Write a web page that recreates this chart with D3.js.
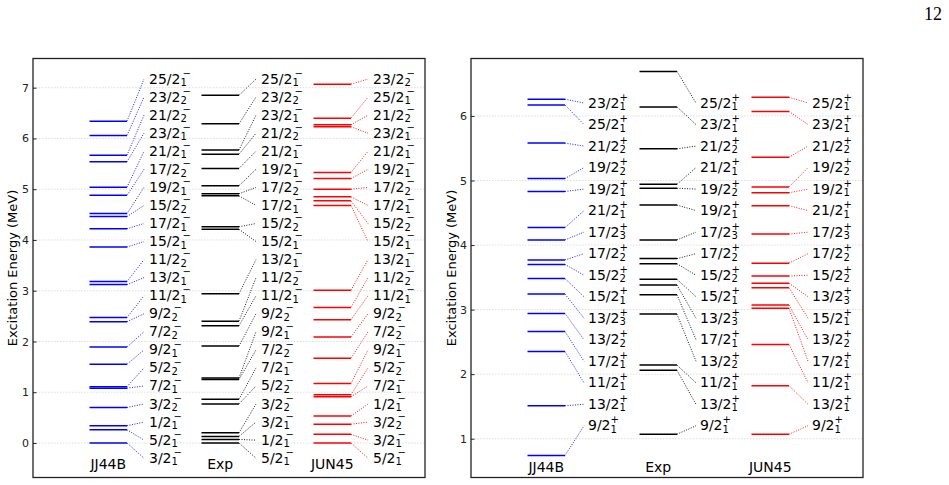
<!DOCTYPE html>
<html>
<head>
<meta charset="utf-8">
<script src="https://d3js.org/d3.v7.min.js"></script>
<style>
  body { margin: 0; background: #fff; }
  svg text { font-family: "DejaVu Sans", sans-serif; }
</style>
</head>
<body>
<svg width="949" height="485"></svg>
<script>
// calculations / experiment
var models = ["JJ44B", "Exp", "JUN45"];

// negative parity, levels listed top to bottom (MeV)
var negJJ44B_E = [6.34, 6.06, 5.67, 5.54, 5.04, 4.88, 4.52, 4.46, 4.22, 3.86, 3.18, 3.12, 2.47, 2.39, 1.89, 1.55, 1.11, 1.08, 0.70, 0.34, 0.26, 0.00];
var negJJ44B_J = ["25/2_1", "23/2_2", "21/2_2", "23/2_1", "21/2_1", "17/2_2", "19/2_1", "15/2_2", "17/2_1", "15/2_1", "11/2_2", "13/2_1", "11/2_1", "9/2_2", "7/2_2", "9/2_1", "5/2_2", "7/2_1", "3/2_2", "1/2_1", "5/2_1", "3/2_1"];
var negExp_E = [6.85, 6.29, 5.77, 5.69, 5.41, 5.07, 4.91, 4.87, 4.26, 4.21, 2.94, 2.40, 2.31, 1.91, 1.28, 1.25, 0.86, 0.77, 0.20, 0.13, 0.07, 0.00];
var negExp_J = ["25/2_1", "23/2_2", "23/2_1", "21/2_2", "21/2_1", "19/2_1", "17/2_2", "17/2_1", "15/2_2", "15/2_1", "13/2_1", "11/2_2", "11/2_1", "9/2_2", "9/2_1", "7/2_2", "7/2_1", "5/2_2", "3/2_2", "3/2_1", "1/2_1", "5/2_1"];
var negJUN45_E = [7.07, 6.40, 6.27, 6.23, 5.33, 5.21, 5.00, 4.85, 4.77, 4.68, 3.01, 2.67, 2.43, 2.09, 1.67, 1.17, 0.95, 0.91, 0.53, 0.37, 0.17, 0.00];
var negJUN45_J = ["23/2_2", "25/2_1", "21/2_2", "23/2_1", "21/2_1", "19/2_1", "17/2_2", "17/2_1", "15/2_2", "15/2_1", "13/2_1", "11/2_2", "11/2_1", "9/2_2", "7/2_2", "9/2_1", "5/2_2", "7/2_1", "1/2_1", "3/2_2", "3/2_1", "5/2_1"];

// positive parity
var posJJ44B_E = [6.26, 6.17, 5.58, 5.03, 4.83, 4.27, 4.08, 3.77, 3.70, 3.48, 3.24, 2.94, 2.66, 2.35, 1.51, 0.74];
var posJJ44B_J = ["23/2_1", "25/2_1", "21/2_2", "19/2_2", "19/2_1", "21/2_1", "17/2_3", "17/2_2", "15/2_2", "15/2_1", "13/2_3", "13/2_2", "17/2_1", "11/2_1", "13/2_1", "9/2_1"];
var posExp_E = [6.69, 6.14, 5.49, 4.94, 4.88, 4.62, 4.08, 3.79, 3.71, 3.47, 3.38, 3.23, 2.93, 2.14, 2.06, 1.07];
var posExp_J = ["25/2_1", "23/2_1", "21/2_2", "21/2_1", "19/2_2", "19/2_1", "17/2_3", "17/2_2", "15/2_2", "15/2_1", "13/2_3", "17/2_1", "13/2_2", "11/2_1", "13/2_1", "9/2_1"];
var posJUN45_E = [6.29, 6.07, 5.36, 4.90, 4.81, 4.61, 4.17, 3.72, 3.52, 3.41, 3.34, 3.07, 3.02, 2.46, 1.82, 1.07];
var posJUN45_J = ["25/2_1", "23/2_1", "21/2_2", "19/2_2", "19/2_1", "21/2_1", "17/2_3", "17/2_2", "15/2_2", "13/2_3", "15/2_1", "13/2_2", "17/2_1", "11/2_1", "13/2_1", "9/2_1"];

var negTicks = [0, 1, 2, 3, 4, 5, 6, 7];
var posTicks = [1, 2, 3, 4, 5, 6];

var colors = { "JJ44B": "#0000ff", "Exp": "#000000", "JUN45": "#ff0000" };

var svg = d3.select("svg");

var panels = [
    { left: 33, parity: "\u2212", ydom: [-0.68, 7.575], ticks: negTicks, slots: [7.17, -0.30],
      conn: 54.5, textOff: 59.5, nameY: 469, ylabX: 17, supDx: 2,
      E: [negJJ44B_E, negExp_E, negJUN45_E], J: [negJJ44B_J, negExp_J, negJUN45_J] },
    { left: 471, parity: "+", ydom: [0.399, 6.89], ticks: posTicks, slots: [6.20, 1.20],
      conn: 56.5, textOff: 60.5, nameY: 471.5, ylabX: 456, supDx: 0,
      E: [posJJ44B_E, posExp_E, posJUN45_E], J: [posJJ44B_J, posExp_J, posJUN45_J] }
];

var plotTop = 58.5, plotBottom = 477.5, pw = 392, lineLen = 37.5;

// spin label: one text, main part + stacked sub/superscript
function addLabel(g, x, y, lab, p, supDx) {
    var parts = lab.split("_");
    var t = g.append("text");
    var main = t.append("tspan").attr("x", x).attr("y", y + 4.5)
        .style("font-size", "14px").text(parts[0]);
    var w = main.node().getComputedTextLength();
    t.append("tspan").attr("x", x + w).attr("y", y + 7.2)
        .style("font-size", "10px").text(parts[1]);
    t.append("tspan").attr("x", x + w + supDx).attr("y", y - 2.3)
        .style("font-size", "10px").text(p);
}

panels.forEach(function (p) {
    var g = svg.append("g").attr("transform", "translate(" + p.left + ",0)");
    var y = d3.scaleLinear().domain(p.ydom).range([plotBottom, plotTop]);
    var x = d3.scalePoint().domain(models).range([56.5, 280.5]);

    // grid
    g.append("g").selectAll("line").data(p.ticks).enter().append("line")
        .attr("x1", 0).attr("x2", pw)
        .attr("y1", function (d) { return y(d); }).attr("y2", function (d) { return y(d); })
        .style("stroke", "#d4d4d4").style("stroke-width", 0.8).style("stroke-dasharray", "1.5,1.5");

    // axis
    var ax = g.append("g").call(d3.axisLeft(y).tickValues(p.ticks).tickSize(-3.5).tickPadding(4).tickFormat(d3.format("d")));
    ax.select(".domain").remove();
    ax.selectAll("line").style("stroke", "#222");
    ax.selectAll("text").attr("font-family", null).style("font-size", "11px").style("fill", "#222");

    // frame
    g.append("rect").attr("x", 0).attr("y", plotTop).attr("width", pw).attr("height", plotBottom - plotTop)
        .style("fill", "none").style("stroke", "#222").style("stroke-width", 1.3);

    g.append("text")
        .attr("transform", "translate(" + (p.ylabX - p.left) + "," + ((plotTop + plotBottom) / 2) + ")rotate(-90)")
        .attr("text-anchor", "middle").style("font-size", "13px")
        .text("Excitation Energy (MeV)");

    models.forEach(function (m, i) {
        var E = p.E[i], J = p.J[i], c = colors[m];
        var x0 = x(m);
        var slot = d3.scaleLinear().domain([0, E.length - 1]).range(p.slots);

        // dotted connectors
        g.append("g").selectAll("line").data(E).enter().append("line")
            .attr("x1", x0 + lineLen).attr("x2", x0 + p.conn)
            .attr("y1", function (d) { return y(d); })
            .attr("y2", function (d, k) { return y(slot(k)); })
            .style("stroke", c).style("stroke-width", 0.9).style("stroke-dasharray", "1,1.5");

        // levels
        g.append("g").selectAll("line").data(E).enter().append("line")
            .attr("x1", x0).attr("x2", x0 + lineLen)
            .attr("y1", function (d) { return y(d); }).attr("y2", function (d) { return y(d); })
            .style("stroke", c).style("stroke-width", 1.5);

        J.forEach(function (lab, k) {
            addLabel(g, x0 + p.textOff, y(slot(k)), lab, p.parity, p.supDx);
        });

        g.append("text").attr("x", x0 + lineLen / 2).attr("y", p.nameY)
            .attr("text-anchor", "middle").style("font-size", "14px").text(m);
    });
});

// page number
svg.append("text").attr("x", 942).attr("y", 20).attr("text-anchor", "end")
    .style("font-family", "'Liberation Serif', serif").style("font-size", "18px").text("12");
</script>
</body>
</html>
